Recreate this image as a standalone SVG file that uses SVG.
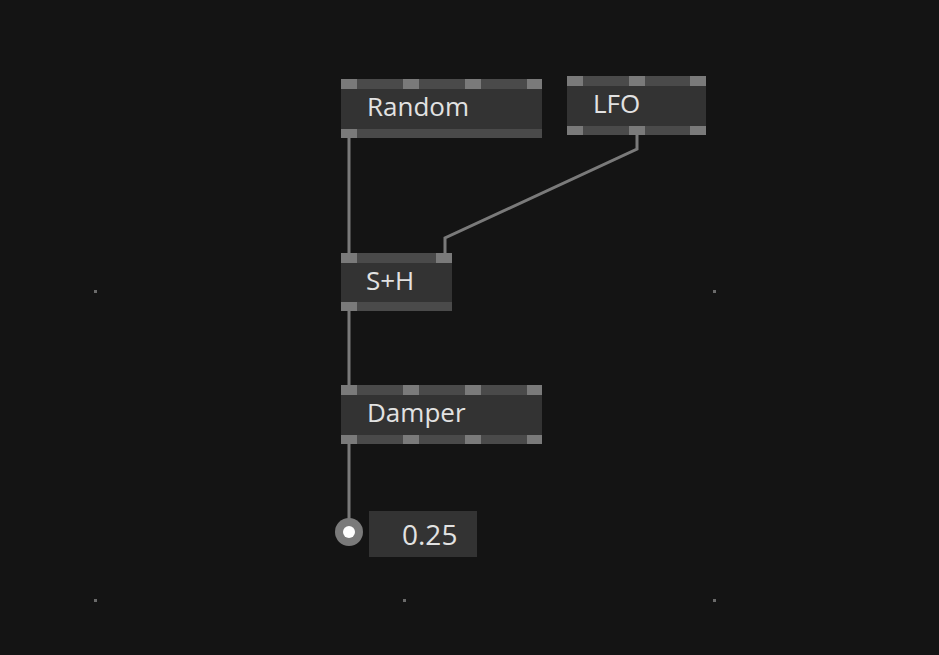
<svg xmlns="http://www.w3.org/2000/svg" width="939" height="655" viewBox="0 0 939 655">
<style>
.body{fill:#333333}.bar{fill:#4a4a4a}.pin{fill:#7a7a7a}
.t{font-family:"Open Sans","DejaVu Sans",sans-serif;font-size:26px;fill:#e2e2e2}
.w{stroke:#7a7a7a;stroke-width:3;fill:none}
.dot{fill:#6a6a6a}
</style>
<rect width="939" height="655" fill="#141414"/>
<g id="grid"><rect class="dot" x="94" y="290" width="3" height="3"/><rect class="dot" x="713" y="290" width="3" height="3"/><rect class="dot" x="94" y="599" width="3" height="3"/><rect class="dot" x="403" y="599" width="3" height="3"/><rect class="dot" x="713" y="599" width="3" height="3"/></g>
<g id="connectors">
<path class="w" d="M349 138V253"/>
<path class="w" d="M637 135V149L445 238V253"/>
<path class="w" d="M349 311V385"/>
<path class="w" d="M349 444V520"/>
</g>
<g id="random">
<rect class="body" x="341" y="79" width="201" height="59"/>
<rect class="bar" x="341" y="79" width="201" height="10"/><rect class="bar" x="341" y="129" width="201" height="9"/>
<rect class="pin" x="341" y="79" width="16" height="10"/><rect class="pin" x="403" y="79" width="16" height="10"/><rect class="pin" x="465" y="79" width="16" height="10"/><rect class="pin" x="527" y="79" width="15" height="10"/>
<rect class="pin" x="341" y="129" width="16" height="9"/>
<text class="t" x="367" y="116">Random</text>
</g>
<g id="lfo">
<rect class="body" x="567" y="76" width="139" height="59"/>
<rect class="bar" x="567" y="76" width="139" height="10"/><rect class="bar" x="567" y="126" width="139" height="9"/>
<rect class="pin" x="567" y="76" width="16" height="10"/><rect class="pin" x="629" y="76" width="16" height="10"/><rect class="pin" x="690" y="76" width="16" height="10"/>
<rect class="pin" x="567" y="126" width="16" height="9"/><rect class="pin" x="629" y="126" width="16" height="9"/><rect class="pin" x="690" y="126" width="16" height="9"/>
<text class="t" x="593" y="113">LFO</text>
</g>
<g id="sh">
<rect class="body" x="341" y="253" width="111" height="58"/>
<rect class="bar" x="341" y="253" width="111" height="10"/><rect class="bar" x="341" y="302" width="111" height="9"/>
<rect class="pin" x="341" y="253" width="16" height="10"/><rect class="pin" x="436" y="253" width="16" height="10"/>
<rect class="pin" x="341" y="302" width="16" height="9"/>
<text class="t" x="366" y="290">S+H</text>
</g>
<g id="damper">
<rect class="body" x="341" y="385" width="201" height="59"/>
<rect class="bar" x="341" y="385" width="201" height="10"/><rect class="bar" x="341" y="435" width="201" height="9"/>
<rect class="pin" x="341" y="385" width="16" height="10"/><rect class="pin" x="403" y="385" width="16" height="10"/><rect class="pin" x="465" y="385" width="16" height="10"/><rect class="pin" x="527" y="385" width="15" height="10"/>
<rect class="pin" x="341" y="435" width="16" height="9"/><rect class="pin" x="403" y="435" width="16" height="9"/><rect class="pin" x="465" y="435" width="16" height="9"/><rect class="pin" x="527" y="435" width="15" height="9"/>
<text class="t" x="367" y="422">Damper</text>
</g>
<g id="value">
<circle cx="349" cy="532" r="14" fill="#7a7a7a"/><circle cx="349" cy="532" r="6" fill="#ffffff"/>
<rect class="body" x="369" y="511" width="108" height="46"/>
<text class="t" x="402" y="545" style="font-size:28px">0.25</text>
</g>
</svg>
